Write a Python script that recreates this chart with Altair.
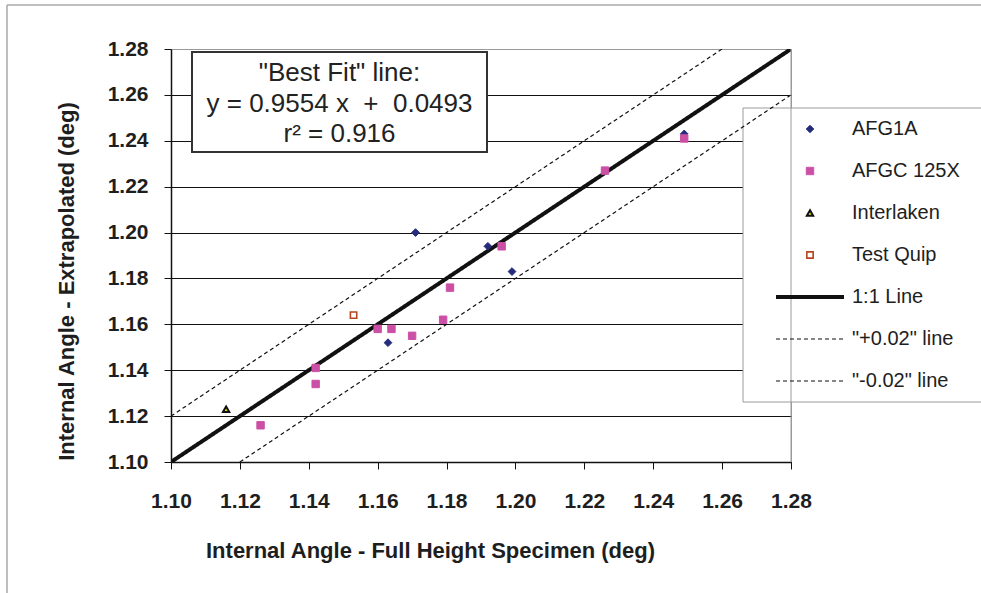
import altair as alt
import pandas as pd

# ---------------- data ----------------
series_names = ["AFG1A", "AFGC 125X", "Interlaken", "Test Quip",
                "1:1 Line", "\"+0.02\" line", "\"-0.02\" line"]

afg1a_x = [1.171, 1.163, 1.192, 1.199, 1.249]
afg1a_y = [1.200, 1.152, 1.194, 1.183, 1.243]

afgc_x = [1.126, 1.142, 1.142, 1.160, 1.164, 1.170, 1.179, 1.181, 1.196, 1.226, 1.249]
afgc_y = [1.116, 1.141, 1.134, 1.158, 1.158, 1.155, 1.162, 1.176, 1.194, 1.227, 1.241]

interlaken_x = [1.116]
interlaken_y = [1.123]

testquip_x = [1.153]
testquip_y = [1.164]

ref_names = ["1:1 Line", "\"+0.02\" line", "\"-0.02\" line"]
ref_x0 = [1.10, 1.10, 1.12]
ref_y0 = [1.10, 1.12, 1.10]
ref_x1 = [1.28, 1.26, 1.28]
ref_y1 = [1.28, 1.28, 1.26]

tick_values = [1.10, 1.12, 1.14, 1.16, 1.18, 1.20, 1.22, 1.24, 1.26, 1.28]

box_lines = ["\"Best Fit\" line:",
             "y = 0.9554 x\u00a0\u00a0+\u00a0\u00a00.0493",
             "r\u00b2 = 0.916"]

# ---------------- tables ----------------
pts = pd.concat([
    pd.DataFrame({"x": afg1a_x, "y": afg1a_y, "series": "AFG1A"}),
    pd.DataFrame({"x": afgc_x, "y": afgc_y, "series": "AFGC 125X"}),
    pd.DataFrame({"x": interlaken_x, "y": interlaken_y, "series": "Interlaken"}),
    pd.DataFrame({"x": testquip_x, "y": testquip_y, "series": "Test Quip"}),
], ignore_index=True)

lines = pd.concat([
    pd.DataFrame({"x": [ref_x0[i], ref_x1[i]], "y": [ref_y0[i], ref_y1[i]], "series": ref_names[i]})
    for i in range(len(ref_names))
], ignore_index=True)

FONT = "Liberation Sans"
TXT = "#1e1e1e"

fill_range = ["#262C7C", "#CC4FA6", "#E6E600", "#FFFFFF", "#111111", "#111111", "#111111"]
stroke_range = ["#262C7C", "#CC4FA6", "#111111", "#B5441F", "#111111", "#111111", "#111111"]
shape_range = ["diamond", "square", "triangle-up", "square", "stroke", "stroke", "stroke"]
size_range = [60, 55, 40, 40, 4624, 4624, 4624]
sw_range = [1, 1, 2, 1.6, 4, 1.2, 1.2]
dash_range = [[1, 0], [1, 0], [1, 0], [1, 0], [1, 0], [4, 3], [4, 3]]

xscale = alt.Scale(domain=[1.10, 1.28], nice=False, zero=False)
yscale = alt.Scale(domain=[1.10, 1.28], nice=False, zero=False)

x_axis = alt.Axis(values=tick_values, format=".2f", grid=False,
                  title="Internal Angle - Full Height Specimen (deg)",
                  labelFont=FONT, labelFontSize=21, labelFontWeight="bold", labelColor=TXT,
                  labelPadding=21, labelBaseline="top",
                  tickSize=7, tickColor="#111", domainColor="#111", domainWidth=1.5,
                  titleFont=FONT, titleFontSize=22, titleFontWeight="bold", titleColor=TXT,
                  titleX=259, titleY=95, titleAlign="center", titleBaseline="alphabetic",
                  labelOverlap=False, labelFlush=False)

y_axis = alt.Axis(values=tick_values, format=".2f", grid=True, gridColor="#111", gridWidth=1,
                  gridOpacity={"condition": {"test": "datum.value > 1.275", "value": 0}, "value": 1},
                  title="Internal Angle - Extrapolated (deg)",
                  labelFont=FONT, labelFontSize=21, labelFontWeight="bold", labelColor=TXT,
                  labelPadding=16,
                  tickSize=7, tickColor="#111", domainColor="#111", domainWidth=1.5,
                  titleFont=FONT, titleFontSize=22, titleFontWeight="bold", titleColor=TXT,
                  titleX=-98, titleY=232, titleAlign="center", titleBaseline="alphabetic",
                  titleAngle=270, labelOverlap=False, labelFlush=False)

legend = alt.Legend(title=None, orient="none", legendX=572, legendY=59, padding=11,
                    clipHeight=20, rowPadding=22, symbolOffset=20, labelOffset=6,
                    labelFont=FONT, labelFontSize=20, labelColor=TXT, labelLimit=300)

def sc(rng, t=None):
    if t:
        return alt.Scale(domain=series_names, range=rng, type=t)
    return alt.Scale(domain=series_names, range=rng)

one = alt.Data(values=[{"a": 1}])

legend_back = alt.Chart(one).mark_rect(fill="white", stroke="#9a9a9a", strokeWidth=1).encode(
    x=alt.value(572), x2=alt.value(900), y=alt.value(59), y2=alt.value(353))

line_layer = alt.Chart(lines).mark_line(clip=True).encode(
    x=alt.X("x:Q", scale=xscale, axis=x_axis),
    y=alt.Y("y:Q", scale=yscale, axis=y_axis),
    detail="series:N",
    stroke=alt.Stroke("series:N", scale=sc(stroke_range), legend=legend),
    strokeDash=alt.StrokeDash("series:N", scale=sc(dash_range), legend=legend),
    strokeWidth=alt.StrokeWidth("series:N", scale=sc(sw_range, "ordinal"), legend=legend),
)

point_layer = alt.Chart(pts).mark_point(filled=False, opacity=1).encode(
    x=alt.X("x:Q", scale=xscale, axis=x_axis),
    y=alt.Y("y:Q", scale=yscale, axis=y_axis),
    fill=alt.Fill("series:N", scale=sc(fill_range), legend=legend),
    stroke=alt.Stroke("series:N", scale=sc(stroke_range), legend=legend),
    shape=alt.Shape("series:N", scale=sc(shape_range), legend=legend),
    size=alt.Size("series:N", scale=sc(size_range, "ordinal"), legend=legend),
    strokeWidth=alt.StrokeWidth("series:N", scale=sc(sw_range, "ordinal"), legend=legend),
)

right_border = alt.Chart(one).mark_rule(color="#9a9a9a", strokeWidth=1).encode(
    x=alt.value(620), y=alt.value(0), y2=alt.value(413))

box = alt.Chart(one).mark_rect(fill="white", stroke="#333333", strokeWidth=2).encode(
    x=alt.value(21), x2=alt.value(316), y=alt.value(3), y2=alt.value(103))

box_texts = [
    alt.Chart(one).mark_text(font=FONT, fontSize=26, color="#222", align="center",
                             baseline="alphabetic").encode(
        x=alt.value(168.5), y=alt.value(32 + 30.5 * i), text=alt.value(t))
    for i, t in enumerate(box_lines)
]

frame_left = alt.Chart(one).mark_rule(color="#a8a8a8", strokeWidth=1.5).encode(
    x=alt.value(-164), y=alt.value(-44), y2=alt.value(600))
frame_top = alt.Chart(one).mark_rule(color="#a8a8a8", strokeWidth=1.5).encode(
    x=alt.value(-164), x2=alt.value(900), y=alt.value(-44))

chart = alt.layer(
    legend_back, line_layer, point_layer, right_border, box, *box_texts, frame_left, frame_top
).properties(
    width=620, height=413,
    autosize=alt.AutoSizeParams(type="none"),
    padding={"left": 171, "top": 49, "right": 190, "bottom": 131},
    background="white",
).configure_view(
    stroke="#9a9a9a", strokeWidth=1
)

chart.save("out.html", embed_options={"renderer": "svg", "actions": False})
